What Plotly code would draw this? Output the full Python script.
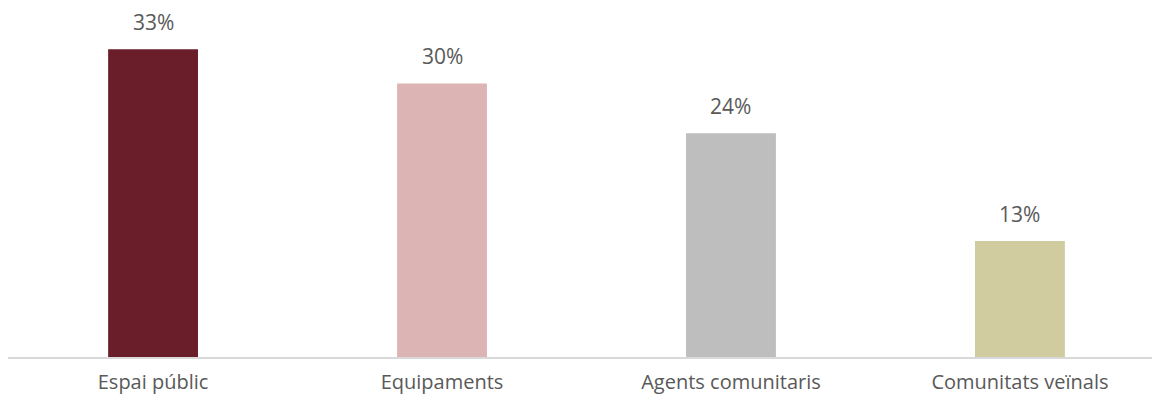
import plotly.graph_objects as go

categories = ["Espai públic", "Equipaments", "Agents comunitaris", "Comunitats veïnals"]
values = [33.4, 29.7, 24.3, 12.6]
labels = ["33%", "30%", "24%", "13%"]
colors = ["#6A1E2A", "#DDB4B4", "#BEBEBE", "#D1CBA0"]

positions = list(range(len(categories)))

fig = go.Figure(
    go.Bar(
        x=positions,
        y=values,
        width=0.311,
        marker=dict(color=colors, line=dict(width=0)),
        hoverinfo="skip",
    )
)

for p, v, t in zip(positions, values, labels):
    fig.add_annotation(
        x=p, y=v, text=t, showarrow=False,
        xanchor="center", yanchor="bottom", yshift=11,
        font=dict(family="Open Sans", size=21, color="#595959"),
    )

fig.update_layout(
    width=1152,
    height=398,
    margin=dict(l=8, r=0, t=0, b=41),
    paper_bgcolor="white",
    plot_bgcolor="white",
    showlegend=False,
    xaxis=dict(
        tickmode="array",
        tickvals=positions,
        ticktext=categories,
        range=[-0.502, 3.457],
        showgrid=False,
        zeroline=False,
        showline=True,
        linecolor="#D9D9D9",
        linewidth=2,
        ticks="",
        automargin=False,
        ticklabelstandoff=6,
        tickfont=dict(family="Open Sans", size=20, color="#595959"),
    ),
    yaxis=dict(
        range=[0, 38.76],
        visible=False,
        showgrid=False,
        zeroline=False,
        automargin=False,
    ),
)

fig.write_html("out.html")
